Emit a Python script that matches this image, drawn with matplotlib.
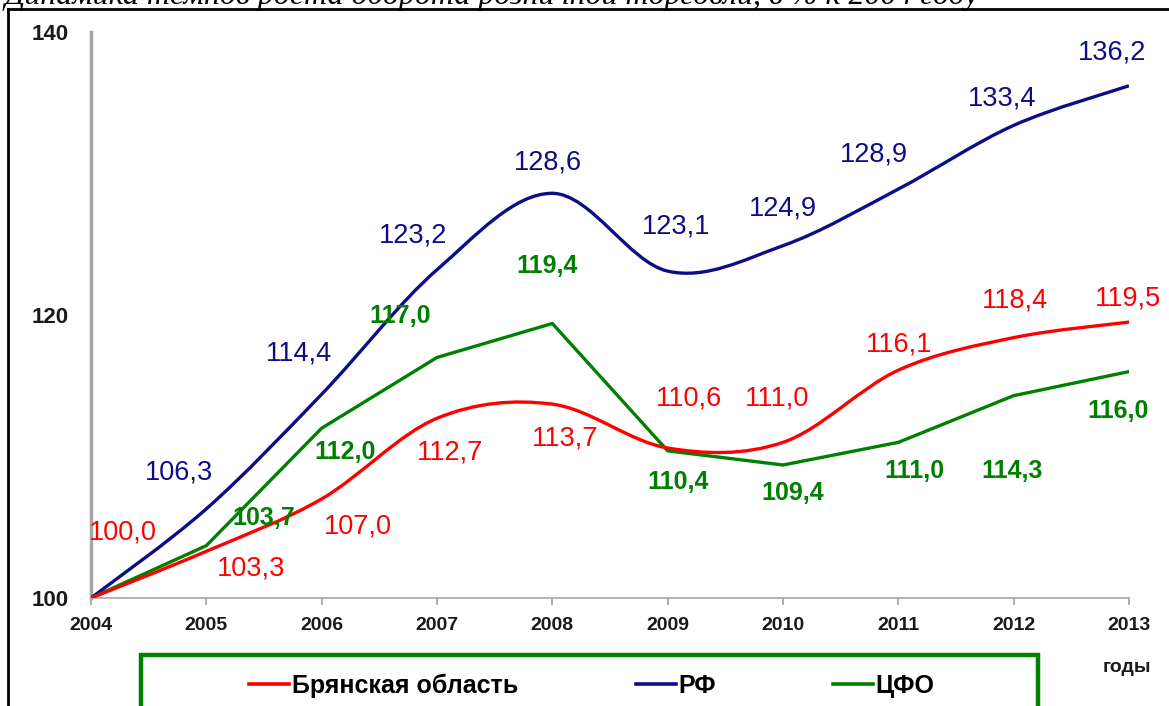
import matplotlib.pyplot as plt
from matplotlib.path import Path
from matplotlib.patches import PathPatch, Rectangle
from matplotlib.lines import Line2D

years = [2004, 2005, 2006, 2007, 2008, 2009, 2010, 2011, 2012, 2013]
bryansk = [100.0, 103.3, 107.0, 112.7, 113.7, 110.6, 111.0, 116.1, 118.4, 119.5]
rf = [100.0, 106.3, 114.4, 123.2, 128.6, 123.1, 124.9, 128.9, 133.4, 136.2]
cfo = [100.0, 103.7, 112.0, 117.0, 119.4, 110.4, 109.4, 111.0, 114.3, 116.0]
series_names = ['Брянская область', 'РФ', 'ЦФО']
title = 'Динамика темпов роста оборота розничной торговли, в % к 2004 году'

# label offsets in pixels (dx, dy), None = no label
off_bryansk = [(32, 65), (45, -17), (36, -28), (13, -34), (13, -34),
               (21, 50), (-6, 44), (1, 26), (1, 37), (-1, 24)]
off_rf = [None, (-27, 36), (-23, 41), (-24, 34), (-4, 31),
          (8, 45), (0, 37), (-24, 35), (-12, 27), (-17, 33)]
off_cfo = [None, (57, 28), (23, -24), (-37, 41), (-5, 57),
           (10, -31), (10, -28), (16, -29), (-2, -75), (-11, -39)]

RED = '#ff0000'
BLUE = '#0d0d85'
GREEN = '#008000'

plt.rcParams['font.family'] = ['Liberation Sans', 'DejaVu Sans']

fig = plt.figure(figsize=(11.69, 7.06), dpi=100)
W, H = 1169, 706
ax = fig.add_axes([91 / W, 1 - 598 / H, (1129 - 91) / W, (598 - 32) / H])


def smooth_path(xs, ys):
    # excel-like smoothed line: cubic bezier with catmull-rom control points
    verts = [(xs[0], ys[0])]
    codes = [Path.MOVETO]
    n = len(xs)
    for i in range(n - 1):
        x0, y0 = (xs[i - 1], ys[i - 1]) if i > 0 else (xs[i], ys[i])
        x1, y1 = xs[i], ys[i]
        x2, y2 = xs[i + 1], ys[i + 1]
        x3, y3 = (xs[i + 2], ys[i + 2]) if i + 2 < n else (x2, y2)
        c1 = (x1 + (x2 - x0) / 6, y1 + (y2 - y0) / 6)
        c2 = (x2 - (x3 - x1) / 6, y2 - (y3 - y1) / 6)
        verts += [c1, c2, (x2, y2)]
        codes += [Path.CURVE4] * 3
    return Path(verts, codes)


ax.add_patch(PathPatch(smooth_path(years, rf), fill=False, edgecolor=BLUE, lw=2.4, zorder=3))
ax.add_patch(PathPatch(smooth_path(years, bryansk), fill=False, edgecolor=RED, lw=2.4, zorder=4))
ax.plot(years, cfo, color=GREEN, lw=2.4, zorder=3.5)


def fmt(v):
    return f'{v:.1f}'.replace('.', ',')


for vals, offs, col, wt, fs in [(bryansk, off_bryansk, RED, 'normal', 19.5),
                                (rf, off_rf, BLUE, 'normal', 19.5),
                                (cfo, off_cfo, GREEN, 'bold', 18)]:
    for x, v, o in zip(years, vals, offs):
        if o is None:
            continue
        ax.annotate(fmt(v), (x, v), xytext=o, textcoords='offset pixels',
                    ha='center', va='center', color=col, fontsize=fs,
                    fontweight=wt, zorder=5, annotation_clip=False)

ax.set_xlim(2004, 2013)
ax.set_ylim(100, 140)
ax.set_xticks(years)
ax.set_yticks([100, 120, 140])
ax.tick_params(axis='x', length=5, width=1.2, color='#a0a0a0', direction='out',
               pad=9, labelsize=14)
ax.tick_params(axis='y', length=0, pad=16, labelsize=16)
for lab in ax.get_xticklabels() + ax.get_yticklabels():
    lab.set_fontweight('bold')
    lab.set_color('#1a1a1a')
for s in ['top', 'right']:
    ax.spines[s].set_visible(False)
ax.spines['left'].set_color('#a6a6a6')
ax.spines['left'].set_linewidth(2.5)
ax.spines['bottom'].set_color('#a6a6a6')
ax.spines['bottom'].set_linewidth(1.2)
ax.set_facecolor('none')

fig.text(1127 / W, 1 - 667 / H, 'годы', ha='center', va='center',
         fontsize=14, fontweight='bold', color='#1a1a1a')

# legend box (bottom cut off by the image edge)
fig.patches.append(Rectangle((141 / W, -0.05), (1038 - 141) / W, 0.05 + (H - 655) / H,
                             transform=fig.transFigure, fill=False,
                             edgecolor=GREEN, lw=3.2, clip_on=False))
handles = [Line2D([], [], color=c, lw=2.6) for c in (RED, BLUE, GREEN)]
fig.legend(handles, series_names, loc='center', bbox_to_anchor=(592 / W, 1 - 686 / H),
           ncol=3, frameon=False, handlelength=1.6, handletextpad=0.1,
           columnspacing=4.7, prop={'weight': 'bold', 'size': 18})

# page frame and title
fig.add_artist(Line2D([8 / W, 8 / W], [0, 1 - 9 / H], color='black', lw=2,
                      transform=fig.transFigure))
fig.add_artist(Line2D([8 / W, 1], [1 - 9 / H, 1 - 9 / H], color='black', lw=2,
                      transform=fig.transFigure))
fig.text(5 / W, 1 - 4 / H, title, ha='left', va='baseline', fontsize=23,
         style='italic', family='Liberation Serif')

fig.savefig('out.png', dpi=100)
